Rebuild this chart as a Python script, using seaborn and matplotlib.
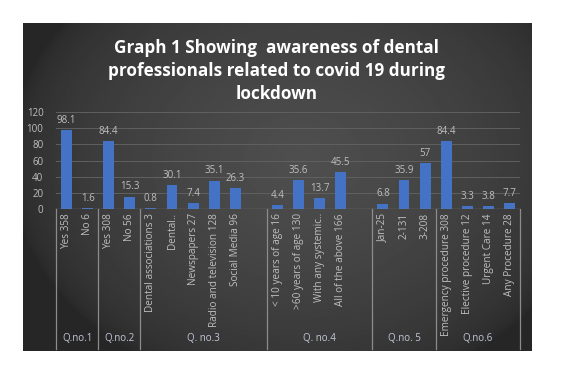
import numpy as np
import pandas as pd
import matplotlib
matplotlib.use("Agg")
import matplotlib.pyplot as plt
import seaborn as sns

# ---- data ----
categories = ["Yes 358", "No 6",
              "Yes 308", "No 56",
              "Dental associations 3", "Dental..", "Newspapers 27",
              "Radio and television 128", "Social Media 96", " ",
              "< 10 years of age 16", ">60 years of age 130", "With any systemic..",
              "All of the above 166", "  ",
              "Jan-25", "2-131", "3-208",
              "Emergency procedure 308", "Elective procedure 12", "Urgent Care 14",
              "Any Procedure 28"]
values = [98.1, 1.6,
          84.4, 15.3,
          0.8, 30.1, 7.4, 35.1, 26.3, np.nan,
          4.4, 35.6, 13.7, 45.5, np.nan,
          6.8, 35.9, 57,
          84.4, 3.3, 3.8, 7.7]
value_labels = ["98.1", "1.6", "84.4", "15.3", "0.8", "30.1", "7.4", "35.1", "26.3", "",
                "4.4", "35.6", "13.7", "45.5", "", "6.8", "35.9", "57",
                "84.4", "3.3", "3.8", "7.7"]
groups = ["Q.no.1", "Q.no.2", "Q. no.3", "Q. no.4", "Q.no. 5", "Q.no.6"]
group_sizes = [2, 2, 6, 5, 3, 4]
yticks = [0, 20, 40, 60, 80, 100, 120]
title = "Graph 1 Showing  awareness of dental\nprofessionals related to covid 19 during\nlockdown"

df = pd.DataFrame({"category": categories, "value": values})

W, H = 562, 374
fig = plt.figure(figsize=(W / 100, H / 100), dpi=100)
fig.patch.set_facecolor("white")
plt.rcParams["font.family"] = ["Open Sans", "DejaVu Sans"]

# ---- dark panel with radial gradient ----
pl, pr, pt, pb = 23, 532, 23, 351
bg = fig.add_axes([pl / W, 1 - pb / H, (pr - pl) / W, (pb - pt) / H])
yy, xx = np.mgrid[0:1:200j, 0:1:300j]
cx, cy = 0.55, 0.42
r = np.sqrt(((xx - cx) / 0.58) ** 2 + ((yy - cy) / 0.72) ** 2)
val = np.clip(1 - r, 0, 1) ** 0.5
img = 0.15 + 0.16 * val
bg.imshow(img, cmap="gray", vmin=0, vmax=1, aspect="auto", extent=[0, 1, 0, 1])
bg.set_axis_off()

# ---- main axes ----
al, ar, at, ab = 56, 520, 112, 209
ax = fig.add_axes([al / W, 1 - ab / H, (ar - al) / W, (ab - at) / H])
ax.set_facecolor("none")
sns.barplot(data=df, x="category", y="value", order=categories, color="#4472C4",
            width=0.52, saturation=1, ax=ax, zorder=3)
ax.set_ylim(0, 120)
ax.set_xlim(-0.5, len(categories) - 0.5)
ax.set_yticks(yticks)
ax.set_yticklabels([str(t) for t in yticks], color="#BFBFBF", fontsize=7)
ax.tick_params(axis="y", length=0, pad=9)
ax.tick_params(axis="x", length=0, pad=3)
ax.set_xticks(range(len(categories)))
ax.set_xticklabels(categories, rotation=90, color="#BFBFBF", fontsize=7.2, va="top", ha="center")
ax.set_xlabel("")
ax.set_ylabel("")
ax.grid(axis="y", color="#606060", linewidth=0.7, zorder=0)
for s in ax.spines.values():
    s.set_visible(False)
ax.axhline(0, color="#8C8C8C", linewidth=0.9, zorder=4)

for i, (v, lab) in enumerate(zip(values, value_labels)):
    if lab:
        ax.annotate(lab, (i, v), xytext=(0, 3), textcoords="offset points",
                    ha="center", va="bottom", fontsize=7, color="#BFBFBF")

# ---- group separators and labels ----
trans = matplotlib.transforms.blended_transform_factory(ax.transData, ax.transAxes)
bottom_line = -(pb - 2 - ab) / (ab - at)
label_y = -(339 - ab) / (ab - at)
edges = np.concatenate([[0], np.cumsum(group_sizes)]) - 0.5
for e in edges:
    ax.plot([e, e], [0, bottom_line], transform=trans, color="#8C8C8C",
            linewidth=0.9, clip_on=False)
for g, a, b in zip(groups, edges[:-1], edges[1:]):
    ax.text((a + b) / 2, label_y, g, transform=trans, ha="center", va="center",
            fontsize=7, color="#C4C8D8")

# ---- title ----
fig.text(277 / W, 1 - 71 / H, title, ha="center", va="center", color="white",
         fontsize=12.3, fontweight="bold", linespacing=1.36)

fig.savefig("out.png", dpi=100, facecolor="white")
